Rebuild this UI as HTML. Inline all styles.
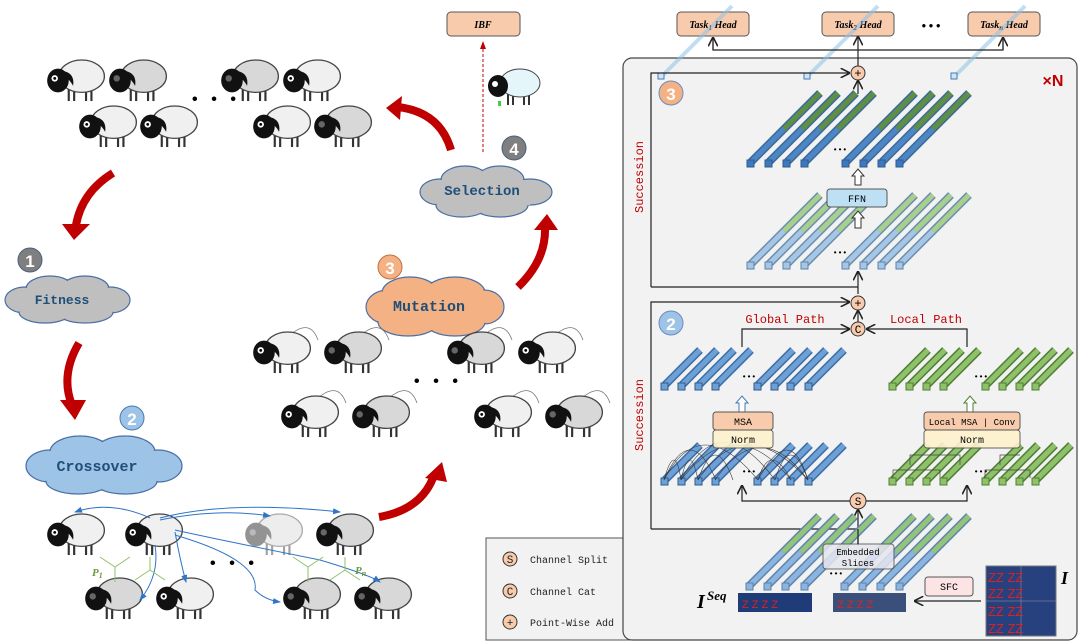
<!DOCTYPE html>
<html><head><meta charset="utf-8"><style>
html,body{margin:0;padding:0;background:#fff;}
svg{display:block;font-family:"Liberation Mono",monospace;}
</style></head><body>
<svg width="1080" height="642" viewBox="0 0 1080 642" xmlns="http://www.w3.org/2000/svg">
<defs>
<symbol id="sh" overflow="visible"><g transform="scale(1.08)">
 <line x1="22" y1="26" x2="22" y2="38" stroke="#333" stroke-width="2"/>
 <line x1="27" y1="26" x2="27" y2="38" stroke="#333" stroke-width="2"/>
 <line x1="38" y1="26" x2="38" y2="38" stroke="#333" stroke-width="2"/>
 <line x1="43" y1="26" x2="43" y2="38" stroke="#333" stroke-width="2"/>
 <ellipse cx="34" cy="15" rx="21" ry="15" fill="#f0f0f0" stroke="#444" stroke-width="1.2"/>
 <ellipse cx="12" cy="19" rx="10" ry="11" fill="#111"/>
 <path d="M16 10 Q28 12 26 24 Q22 16 14 14Z" fill="#111"/>
 <circle cx="9" cy="17" r="3" fill="#fff"/><circle cx="9" cy="17" r="1.3" fill="#000"/>
</g></symbol>
<symbol id="shg" overflow="visible"><g transform="scale(1.08)">
 <line x1="22" y1="26" x2="22" y2="38" stroke="#333" stroke-width="2"/>
 <line x1="27" y1="26" x2="27" y2="38" stroke="#333" stroke-width="2"/>
 <line x1="38" y1="26" x2="38" y2="38" stroke="#333" stroke-width="2"/>
 <line x1="43" y1="26" x2="43" y2="38" stroke="#333" stroke-width="2"/>
 <ellipse cx="34" cy="15" rx="21" ry="15" fill="#d8d8d8" stroke="#444" stroke-width="1.2"/>
 <ellipse cx="12" cy="19" rx="10" ry="11" fill="#111"/>
 <path d="M16 10 Q28 12 26 24 Q22 16 14 14Z" fill="#111"/>
 <circle cx="9" cy="17" r="3" fill="#666"/>
</g></symbol>
<symbol id="bB" overflow="visible"><line x1="3" y1="-3" x2="38" y2="-38" stroke="#3c6fa8" stroke-width="8"/><line x1="3" y1="-3" x2="38" y2="-38" stroke="#6ea0d6" stroke-width="5"/><rect x="-1" y="-5" width="7" height="7" fill="#6ea0d6" stroke="#2e5b8e" stroke-width="1"/></symbol>
<symbol id="bG" overflow="visible"><line x1="3" y1="-3" x2="38" y2="-38" stroke="#4f7f34" stroke-width="8"/><line x1="3" y1="-3" x2="38" y2="-38" stroke="#8fc06a" stroke-width="5"/><rect x="-1" y="-5" width="7" height="7" fill="#8fc06a" stroke="#4f7f34" stroke-width="1"/></symbol>
<symbol id="bU" overflow="visible"><line x1="3" y1="-3" x2="72" y2="-72" stroke="#3c6a9a" stroke-width="8"/><line x1="3" y1="-3" x2="36" y2="-36" stroke="#4d86c4" stroke-width="5"/><line x1="36" y1="-36" x2="72" y2="-72" stroke="#5e8f45" stroke-width="5"/><rect x="-1" y="-5" width="7" height="7" fill="#3d78bf" stroke="#2e5b8e"/></symbol>
<symbol id="bL" overflow="visible"><line x1="3" y1="-3" x2="72" y2="-72" stroke="#6b8fb0" stroke-width="8"/><line x1="3" y1="-3" x2="36" y2="-36" stroke="#a7c6e6" stroke-width="5"/><line x1="36" y1="-36" x2="72" y2="-72" stroke="#a8cf8c" stroke-width="5"/><rect x="-1" y="-5" width="7" height="7" fill="#a7c6e6" stroke="#5b82a8"/></symbol>
<symbol id="bE" overflow="visible"><line x1="3" y1="-3" x2="72" y2="-72" stroke="#5f86ad" stroke-width="8"/><line x1="3" y1="-3" x2="36" y2="-36" stroke="#8cb4e0" stroke-width="5"/><line x1="36" y1="-36" x2="72" y2="-72" stroke="#93c47a" stroke-width="5"/><rect x="-1" y="-5" width="7" height="7" fill="#8cb4e0" stroke="#5b82a8"/></symbol>
<marker id="ah" markerWidth="8" markerHeight="8" refX="7" refY="4" orient="auto"><path d="M0 0 L8 4 L0 8" fill="none" stroke="#222" stroke-width="1.3"/></marker>
<marker id="ahb" markerWidth="8" markerHeight="8" refX="7" refY="4" orient="auto"><path d="M0 1 L8 4 L0 7Z" fill="#2e75c8"/></marker>
<marker id="ahr" markerWidth="8" markerHeight="8" refX="7" refY="4" orient="auto"><path d="M0 1 L8 4 L0 7Z" fill="#c00000"/></marker>
</defs>

<use href="#sh" x="45" y="60"/><use href="#shg" x="107" y="60"/><use href="#shg" x="219" y="60"/><use href="#sh" x="281" y="60"/>
<use href="#sh" x="77" y="106"/><use href="#sh" x="138" y="106"/><use href="#sh" x="251" y="106"/><use href="#shg" x="312" y="106"/>
<text x="190" y="104" font-size="16" font-weight="bold">• • •</text>

<rect x="447" y="12" width="73" height="24" rx="4" fill="#f8cbad" stroke="#555"/>
<text x="483" y="28" font-size="10" font-style="italic" font-weight="bold" text-anchor="middle" font-family="Liberation Serif,serif">IBF</text>
<line x1="483" y1="152" x2="483" y2="42" stroke="#c00000" stroke-dasharray="3,2" marker-end="url(#ahr)"/>
<g transform="translate(486,67)">
 <line x1="22" y1="26" x2="22" y2="38" stroke="#333" stroke-width="2"/><line x1="27" y1="26" x2="27" y2="38" stroke="#333" stroke-width="2"/><line x1="38" y1="26" x2="38" y2="38" stroke="#333" stroke-width="2"/><line x1="43" y1="26" x2="43" y2="38" stroke="#333" stroke-width="2"/>
 <ellipse cx="34" cy="16" rx="20" ry="14" fill="#e4f6fa" stroke="#444"/>
 <ellipse cx="12" cy="19" rx="10" ry="11" fill="#111"/><circle cx="9" cy="17" r="3" fill="#fff"/>
 <rect x="12" y="34" width="3" height="5" fill="#4c4"/>
</g>

<g fill="none" stroke="#c00000" stroke-width="8">
 <path d="M451 150 Q440 112 398 107"/>
 <path d="M113 173 Q82 192 76 225"/>
 <path d="M79 343 Q60 375 72 405"/>
 <path d="M518 287 Q546 260 545 228"/>
 <path d="M379 517 Q420 510 433 478"/>
</g>
<g fill="#c00000">
 <path d="M386 108 L402 96 L400 120Z"/>
 <path d="M62 224 L90 224 L74 240Z"/>
 <path d="M60 400 L86 400 L75 420Z"/>
 <path d="M534 230 L558 230 L547 214Z"/>
 <path d="M425 478 L447 482 L442 462Z"/>
</g>

<circle cx="514" cy="148" r="12" fill="#7f7f7f" stroke="#4a5f7a"/><text x="514" y="155" font-size="17" fill="#fff" text-anchor="middle" font-family="Liberation Sans,sans-serif" font-weight="bold">4</text>
<circle cx="30" cy="260" r="12" fill="#7f7f7f" stroke="#4a5f7a"/><text x="30" y="267" font-size="17" fill="#fff" text-anchor="middle" font-family="Liberation Sans,sans-serif" font-weight="bold">1</text>
<circle cx="132" cy="418" r="12" fill="#9dc3e6" stroke="#4a7ab0"/><text x="132" y="425" font-size="17" fill="#fff" text-anchor="middle" font-family="Liberation Sans,sans-serif" font-weight="bold">2</text>
<circle cx="390" cy="267" r="12" fill="#f4b183" stroke="#c07040"/><text x="390" y="274" font-size="17" fill="#fff" text-anchor="middle" font-family="Liberation Sans,sans-serif" font-weight="bold">3</text>

<g stroke="#4a6fa5" stroke-width="1.2">
 <g fill="#bfbfbf"><ellipse cx="440" cy="192" rx="20" ry="13"/><ellipse cx="465" cy="180" rx="24" ry="14"/><ellipse cx="500" cy="180" rx="24" ry="14"/><ellipse cx="530" cy="192" rx="22" ry="13"/><ellipse cx="500" cy="205" rx="28" ry="12"/><ellipse cx="462" cy="205" rx="26" ry="12"/></g>
 <g fill="#bfbfbf"><ellipse cx="25" cy="300" rx="20" ry="13"/><ellipse cx="50" cy="289" rx="24" ry="13"/><ellipse cx="85" cy="289" rx="24" ry="13"/><ellipse cx="110" cy="300" rx="20" ry="13"/><ellipse cx="85" cy="312" rx="28" ry="11"/><ellipse cx="45" cy="312" rx="26" ry="11"/></g>
 <g fill="#9dc3e6"><ellipse cx="50" cy="466" rx="24" ry="16"/><ellipse cx="80" cy="452" rx="30" ry="16"/><ellipse cx="125" cy="452" rx="30" ry="16"/><ellipse cx="158" cy="466" rx="24" ry="16"/><ellipse cx="125" cy="481" rx="32" ry="13"/><ellipse cx="78" cy="481" rx="32" ry="13"/></g>
 <g fill="#f4b183"><ellipse cx="388" cy="307" rx="22" ry="17"/><ellipse cx="410" cy="293" rx="28" ry="16"/><ellipse cx="455" cy="293" rx="30" ry="16"/><ellipse cx="484" cy="307" rx="20" ry="17"/><ellipse cx="455" cy="322" rx="30" ry="14"/><ellipse cx="408" cy="322" rx="30" ry="14"/></g>
</g>
<g stroke="none">
 <g fill="#bfbfbf"><ellipse cx="440" cy="192" rx="19" ry="12"/><ellipse cx="465" cy="180" rx="23" ry="13"/><ellipse cx="500" cy="180" rx="23" ry="13"/><ellipse cx="530" cy="192" rx="21" ry="12"/><ellipse cx="500" cy="205" rx="27" ry="11"/><ellipse cx="462" cy="205" rx="25" ry="11"/><rect x="440" y="180" width="90" height="25"/></g>
 <g fill="#bfbfbf"><ellipse cx="25" cy="300" rx="19" ry="12"/><ellipse cx="50" cy="289" rx="23" ry="12"/><ellipse cx="85" cy="289" rx="23" ry="12"/><ellipse cx="110" cy="300" rx="19" ry="12"/><ellipse cx="85" cy="312" rx="27" ry="10"/><ellipse cx="45" cy="312" rx="25" ry="10"/><rect x="25" y="289" width="85" height="23"/></g>
 <g fill="#9dc3e6"><ellipse cx="50" cy="466" rx="23" ry="15"/><ellipse cx="80" cy="452" rx="29" ry="15"/><ellipse cx="125" cy="452" rx="29" ry="15"/><ellipse cx="158" cy="466" rx="23" ry="15"/><ellipse cx="125" cy="481" rx="31" ry="12"/><ellipse cx="78" cy="481" rx="31" ry="12"/><rect x="50" y="452" width="108" height="29"/></g>
 <g fill="#f4b183"><ellipse cx="388" cy="307" rx="21" ry="16"/><ellipse cx="410" cy="293" rx="27" ry="15"/><ellipse cx="455" cy="293" rx="29" ry="15"/><ellipse cx="484" cy="307" rx="19" ry="16"/><ellipse cx="455" cy="322" rx="29" ry="13"/><ellipse cx="408" cy="322" rx="29" ry="13"/><rect x="388" y="293" width="96" height="29"/></g>
</g>
<g fill="#1f4e79" font-weight="bold" text-anchor="middle">
 <text x="482" y="195" font-size="14">Selection</text>
 <text x="62" y="304" font-size="13">Fitness</text>
 <text x="97" y="471" font-size="15">Crossover</text>
 <text x="429" y="311" font-size="15">Mutation</text>
</g>

<g fill="none" stroke="#777" stroke-width="0.8">
 <path d="M290 335 Q310 318 318 340"/><path d="M361 335 Q381 318 389 340"/><path d="M484 335 Q504 318 512 340"/><path d="M555 335 Q575 318 583 340"/>
 <path d="M318 398 Q338 381 346 403"/><path d="M389 398 Q409 381 417 403"/><path d="M511 398 Q531 381 539 403"/><path d="M582 398 Q602 381 610 403"/>
</g>
<use href="#sh" x="251" y="332"/><use href="#shg" x="322" y="332"/><use href="#shg" x="445" y="332"/><use href="#sh" x="516" y="332"/>
<use href="#sh" x="279" y="396"/><use href="#shg" x="350" y="396"/><use href="#sh" x="472" y="396"/><use href="#shg" x="543" y="396"/>
<text x="412" y="386" font-size="16" font-weight="bold">• • •</text>

<use href="#sh" x="45" y="514"/><use href="#sh" x="123" y="514"/><g opacity="0.45"><use href="#shg" x="243" y="514"/></g><use href="#shg" x="314" y="514"/>
<use href="#shg" x="83" y="578"/><use href="#sh" x="154" y="578"/><use href="#shg" x="281" y="578"/><use href="#shg" x="352" y="578"/>
<text x="208" y="568" font-size="16" font-weight="bold">• • •</text>
<g fill="none" stroke="#2e75c8" stroke-width="1" marker-end="url(#ahb)">
 <path d="M150 518 Q110 500 75 512"/>
 <path d="M160 518 Q230 500 340 512"/>
 <path d="M160 520 Q220 508 270 516"/>
 <path d="M175 530 Q220 540 320 560 Q370 575 380 582"/>
 <path d="M175 532 Q180 560 186 582"/>
 <path d="M155 545 Q160 575 140 600"/>
 <path d="M175 535 Q260 560 255 590 Q265 600 280 602"/>
</g>
<g stroke="#8fc06a" stroke-width="1">
 <line x1="115" y1="567" x2="100" y2="557"/><line x1="115" y1="567" x2="130" y2="557"/><line x1="115" y1="567" x2="115" y2="582"/>
 <line x1="150" y1="570" x2="135" y2="580"/><line x1="150" y1="570" x2="165" y2="580"/><line x1="150" y1="570" x2="150" y2="557"/>
 <line x1="308" y1="567" x2="293" y2="557"/><line x1="308" y1="567" x2="323" y2="557"/><line x1="308" y1="567" x2="308" y2="582"/>
 <line x1="345" y1="570" x2="330" y2="580"/><line x1="345" y1="570" x2="360" y2="580"/><line x1="345" y1="570" x2="345" y2="557"/>
</g>
<text x="92" y="576" font-size="11" font-style="italic" font-weight="bold" fill="#6a9a3a" font-family="Liberation Serif,serif">P<tspan font-size="8" dy="2">1</tspan></text>
<text x="355" y="574" font-size="11" font-style="italic" font-weight="bold" fill="#6a9a3a" font-family="Liberation Serif,serif">P<tspan font-size="8" dy="2">n</tspan></text>

<rect x="486" y="538" width="150" height="102" fill="#f2f2f2" stroke="#555"/>
<g font-size="10" fill="#222">
 <circle cx="510" cy="559" r="7" fill="#f8cbad" stroke="#333"/><text x="510" y="563" text-anchor="middle" font-size="11">S</text><text x="530" y="563">Channel Split</text>
 <circle cx="510" cy="591" r="7" fill="#f8cbad" stroke="#333"/><text x="510" y="595" text-anchor="middle" font-size="11">C</text><text x="530" y="595">Channel Cat</text>
 <circle cx="510" cy="622" r="7" fill="#f8cbad" stroke="#333"/><text x="510" y="626" text-anchor="middle" font-size="11">+</text><text x="530" y="626">Point-Wise Add</text>
</g>

<rect x="623" y="58" width="454" height="582" rx="9" fill="#f2f2f2" stroke="#444" stroke-width="1.2"/>

<g fill="#f8cbad" stroke="#555"><rect x="677" y="12" width="72" height="24" rx="4"/><rect x="822" y="12" width="72" height="24" rx="4"/><rect x="968" y="12" width="72" height="24" rx="4"/></g>
<g font-family="Liberation Serif,serif" font-style="italic" font-weight="bold" font-size="10" text-anchor="middle">
 <text x="713" y="28">Task<tspan font-size="7" dy="2">1</tspan><tspan dy="-2"> Head</tspan></text>
 <text x="858" y="28">Task<tspan font-size="7" dy="2">2</tspan><tspan dy="-2"> Head</tspan></text>
 <text x="1004" y="28">Task<tspan font-size="7" dy="2">n</tspan><tspan dy="-2"> Head</tspan></text>
</g>
<text x="931" y="30" font-size="12" font-weight="bold" text-anchor="middle">•••</text>
<g stroke="#8fc3e6" stroke-width="4" opacity="0.55"><line x1="662" y1="76" x2="732" y2="6"/><line x1="808" y1="76" x2="878" y2="6"/><line x1="955" y1="76" x2="1025" y2="6"/></g>
<g fill="#cde6f7" stroke="#4a7ab0"><rect x="658" y="73" width="6" height="6"/><rect x="804" y="73" width="6" height="6"/><rect x="951" y="73" width="6" height="6"/></g>

<g fill="none" stroke="#222" stroke-width="1.2">
 <line x1="858" y1="66" x2="858" y2="37" marker-end="url(#ah)"/>
 <polyline points="713,37 713,50 1003,50 1003,37"/>
 <line x1="713" y1="50" x2="713" y2="38" marker-end="url(#ah)"/>
 <line x1="1003" y1="50" x2="1003" y2="38" marker-end="url(#ah)"/>
 <polyline points="651,287 651,73 849,73" marker-end="url(#ah)"/>
 <line x1="858" y1="94" x2="858" y2="81" marker-end="url(#ah)"/>
 <polyline points="651,287 858,287"/>
 <line x1="858" y1="294" x2="858" y2="272" marker-end="url(#ah)"/>
 <polyline points="651,529 651,302 849,302" marker-end="url(#ah)"/>
 <line x1="858" y1="322" x2="858" y2="311" marker-end="url(#ah)"/>
 <polyline points="742,347 742,329 849,329" marker-end="url(#ah)"/>
 <polyline points="967,347 967,329 867,329" marker-end="url(#ah)"/>
 <polyline points="651,529 858,529"/>
 <line x1="858" y1="545" x2="858" y2="510" marker-end="url(#ah)"/>
 <polyline points="850,501 742,501 742,486" marker-end="url(#ah)"/>
 <polyline points="866,501 967,501 967,486" marker-end="url(#ah)"/>
</g>
<circle cx="858" cy="73" r="7" fill="#f8cbad" stroke="#333"/><text x="858" y="77" font-size="12" text-anchor="middle">+</text>
<circle cx="858" cy="303" r="7" fill="#f8cbad" stroke="#333"/><text x="858" y="307" font-size="12" text-anchor="middle">+</text>
<circle cx="858" cy="329" r="7" fill="#f8cbad" stroke="#333"/><text x="858" y="333" font-size="11" text-anchor="middle">C</text>
<circle cx="858" cy="501" r="8" fill="#f8cbad" stroke="#333"/><text x="858" y="505" font-size="11" text-anchor="middle">S</text>

<circle cx="671" cy="93" r="12" fill="#f4b183" stroke="#6a8cc0"/><text x="671" y="100" font-size="17" fill="#fff" text-anchor="middle" font-family="Liberation Sans,sans-serif" font-weight="bold">3</text>
<circle cx="671" cy="323" r="12" fill="#9dc3e6" stroke="#6a8cc0"/><text x="671" y="330" font-size="17" fill="#fff" text-anchor="middle" font-family="Liberation Sans,sans-serif" font-weight="bold">2</text>
<text x="1053" y="86" font-size="16" fill="#c00000" font-weight="bold" text-anchor="middle" font-family="Liberation Sans,sans-serif">×N</text>
<g fill="#c00000" font-size="12" text-anchor="middle">
 <text transform="translate(643,177) rotate(-90)">Succession</text>
 <text transform="translate(643,415) rotate(-90)">Succession</text>
 <text x="785" y="323">Global Path</text>
 <text x="926" y="323">Local Path</text>
</g>

<use href="#bU" x="748" y="165"/><use href="#bU" x="766" y="165"/><use href="#bU" x="784" y="165"/><use href="#bU" x="802" y="165"/>
<use href="#bU" x="843" y="165"/><use href="#bU" x="861" y="165"/><use href="#bU" x="879" y="165"/><use href="#bU" x="897" y="165"/>
<use href="#bL" x="748" y="267"/><use href="#bL" x="766" y="267"/><use href="#bL" x="784" y="267"/><use href="#bL" x="802" y="267"/>
<use href="#bL" x="843" y="267"/><use href="#bL" x="861" y="267"/><use href="#bL" x="879" y="267"/><use href="#bL" x="897" y="267"/>
<text x="840" y="152" font-size="8" text-anchor="middle">•••</text><text x="840" y="255" font-size="8" text-anchor="middle">•••</text>
<path d="M855 185 V176 H852 L858 169 L864 176 H861 V185Z" fill="#fff" stroke="#333"/>
<rect x="827" y="189" width="60" height="18" rx="3" fill="#bde0f5" stroke="#555"/>
<text x="857" y="202" font-size="10" text-anchor="middle">FFN</text>
<path d="M855 228 V218 H852 L858 211 L864 218 H861 V228Z" fill="#fff" stroke="#333"/>

<use href="#bB" x="662" y="388"/><use href="#bB" x="679" y="388"/><use href="#bB" x="696" y="388"/><use href="#bB" x="713" y="388"/>
<use href="#bB" x="755" y="388"/><use href="#bB" x="772" y="388"/><use href="#bB" x="788" y="388"/><use href="#bB" x="806" y="388"/>
<use href="#bG" x="890" y="388"/><use href="#bG" x="907" y="388"/><use href="#bG" x="924" y="388"/><use href="#bG" x="941" y="388"/>
<use href="#bG" x="983" y="388"/><use href="#bG" x="1000" y="388"/><use href="#bG" x="1017" y="388"/><use href="#bG" x="1033" y="388"/>
<text x="749" y="379" font-size="8" text-anchor="middle">•••</text><text x="981" y="379" font-size="8" text-anchor="middle">•••</text>
<path d="M739 413 V403 H736 L742 396 L748 403 H745 V413Z" fill="#fff" stroke="#4a7ab0"/>
<path d="M967 413 V403 H964 L970 396 L976 403 H973 V413Z" fill="#fff" stroke="#4f7f34"/>

<use href="#bB" x="662" y="483"/><use href="#bB" x="679" y="483"/><use href="#bB" x="696" y="483"/><use href="#bB" x="713" y="483"/>
<use href="#bB" x="755" y="483"/><use href="#bB" x="772" y="483"/><use href="#bB" x="788" y="483"/><use href="#bB" x="806" y="483"/>
<use href="#bG" x="890" y="483"/><use href="#bG" x="907" y="483"/><use href="#bG" x="924" y="483"/><use href="#bG" x="941" y="483"/>
<use href="#bG" x="983" y="483"/><use href="#bG" x="1000" y="483"/><use href="#bG" x="1017" y="483"/><use href="#bG" x="1033" y="483"/>
<text x="749" y="474" font-size="8" text-anchor="middle">•••</text><text x="981" y="474" font-size="8" text-anchor="middle">•••</text>
<g fill="none" stroke="#333" stroke-width="0.6">
 <path d="M664 480 Q690 420 716 480"/><path d="M664 480 Q700 410 758 480"/><path d="M681 480 Q720 405 775 480"/><path d="M681 480 Q735 410 791 480"/>
 <path d="M698 480 Q745 410 808 480"/><path d="M698 480 Q715 430 733 480"/><path d="M715 480 Q760 415 808 480"/><path d="M664 480 Q675 440 681 480"/>
 <path d="M758 480 Q770 440 791 480"/><path d="M775 480 Q790 430 808 480"/><path d="M758 480 Q790 420 808 480"/><path d="M681 480 Q690 440 698 480"/>
</g>
<g fill="none" stroke="#444" stroke-width="0.7">
 <polyline points="893,478 893,470 940,470 940,478"/><polyline points="910,465 910,455 960,455 960,465"/>
 <polyline points="985,478 985,470 1030,470 1030,478"/><polyline points="1000,465 1000,455 1020,455"/>
</g>
<rect x="713" y="412" width="60" height="18" rx="3" fill="#f8cbad" stroke="#555"/>
<rect x="713" y="430" width="60" height="18" rx="3" fill="#fff2cc" stroke="#555" opacity="0.9"/>
<text x="743" y="425" font-size="10" text-anchor="middle">MSA</text><text x="743" y="443" font-size="10" text-anchor="middle">Norm</text>
<rect x="924" y="412" width="96" height="18" rx="3" fill="#f8cbad" stroke="#555"/>
<rect x="924" y="430" width="96" height="18" rx="3" fill="#fff2cc" stroke="#555" opacity="0.9"/>
<text x="972" y="425" font-size="9" text-anchor="middle">Local MSA | Conv</text><text x="972" y="443" font-size="10" text-anchor="middle">Norm</text>

<use href="#bE" x="747" y="588"/><use href="#bE" x="765" y="588"/><use href="#bE" x="783" y="588"/><use href="#bE" x="802" y="588"/>
<use href="#bE" x="842" y="588"/><use href="#bE" x="860" y="588"/><use href="#bE" x="878" y="588"/><use href="#bE" x="897" y="588"/>
<text x="836" y="576" font-size="8" text-anchor="middle">•••</text>
<rect x="823" y="544" width="71" height="25" rx="3" fill="#e6e6ee" stroke="#555" opacity="0.85"/>
<text x="858" y="555" font-size="9" text-anchor="middle">Embedded</text><text x="858" y="566" font-size="9" text-anchor="middle">Slices</text>
<line x1="858" y1="544" x2="858" y2="529" stroke="#222" stroke-width="1.2"/>

<text x="697" y="608" font-size="20" font-style="italic" font-weight="bold" font-family="Liberation Serif,serif">I</text>
<text x="707" y="600" font-size="13" font-style="italic" font-weight="bold" font-family="Liberation Serif,serif">Seq</text>
<rect x="738" y="593" width="74" height="19" fill="#1f3c78"/><rect x="833" y="593" width="73" height="19" fill="#3a4f7a"/>
<g fill="#e02020" font-size="11" font-family="Liberation Sans,sans-serif"><text x="742" y="608">Z Z Z Z</text><text x="837" y="608">Z Z Z Z</text></g>
<rect x="925" y="577" width="48" height="19" rx="3" fill="#fce4e4" stroke="#555"/><text x="949" y="590" font-size="10" text-anchor="middle">SFC</text>
<line x1="981" y1="601" x2="915" y2="601" stroke="#222" stroke-width="1.2" marker-end="url(#ah)"/>
<rect x="986" y="566" width="70" height="70" fill="#27407e" stroke="#777"/>
<g stroke="#999" stroke-width="0.5"><line x1="1021" y1="566" x2="1021" y2="636"/><line x1="986" y1="601" x2="1056" y2="601"/></g>
<g fill="#e02020" font-size="13" font-family="Liberation Sans,sans-serif"><text x="988" y="582">ZZ ZZ</text><text x="988" y="598">ZZ ZZ</text><text x="988" y="616">ZZ ZZ</text><text x="988" y="633">ZZ ZZ</text></g>
<text x="1061" y="584" font-size="18" font-style="italic" font-weight="bold" font-family="Liberation Serif,serif">I</text>
</svg>
</body></html>
